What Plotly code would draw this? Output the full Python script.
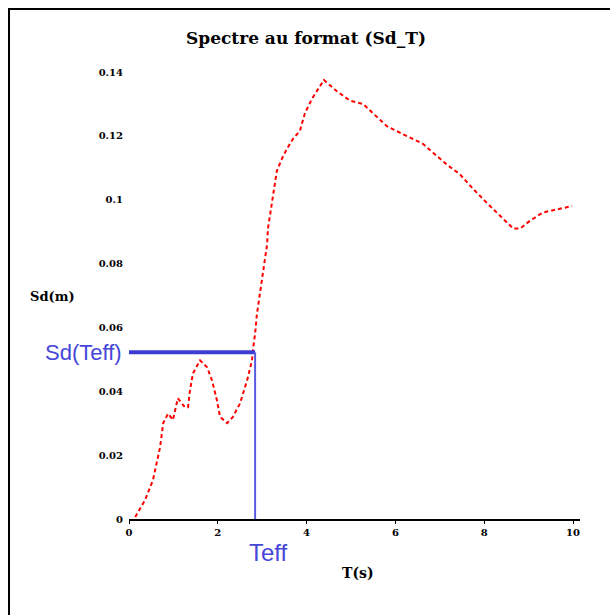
import plotly.graph_objects as go

T = [0.14, 0.36, 0.54, 0.61, 0.70, 0.77, 0.88, 0.99, 1.10, 1.26, 1.33, 1.37, 1.44, 1.60, 1.76, 1.87,
     1.98, 2.05, 2.21, 2.34, 2.50, 2.66, 2.77, 2.80, 2.84, 2.88, 2.95, 3.02, 3.11, 3.13, 3.22, 3.27,
     3.33, 3.45, 3.56, 3.69, 3.85, 3.96, 4.12, 4.39, 4.68, 4.98, 5.27, 5.50, 5.81, 6.10, 6.40, 6.62,
     6.85, 7.16, 7.45, 7.75, 8.06, 8.36, 8.65, 8.81, 9.03, 9.32, 9.64, 9.98]
Sd = [0.0006, 0.0059, 0.0122, 0.0163, 0.0225, 0.0300, 0.0330, 0.0310, 0.0378, 0.0350, 0.0350, 0.0400,
      0.0456, 0.0497, 0.0475, 0.0434, 0.0372, 0.0320, 0.0300, 0.0320, 0.0362, 0.0434, 0.0497, 0.0540,
      0.0580, 0.0640, 0.0706, 0.0788, 0.0860, 0.0910, 0.0988, 0.1040, 0.1090, 0.1130, 0.1160, 0.1190,
      0.1216, 0.1270, 0.1316, 0.1375, 0.1340, 0.1310, 0.1300, 0.1270, 0.1230, 0.1210, 0.1190, 0.1175,
      0.1147, 0.1110, 0.1080, 0.1034, 0.0990, 0.0950, 0.0910, 0.0910, 0.0934, 0.0960, 0.0970, 0.0980]

Teff = 2.84
SdTeff = 0.0522

x_ticks = [0, 2, 4, 6, 8, 10]
x_labels = ["0", "2", "4", "6", "8", "10"]
y_ticks = [0, 0.02, 0.04, 0.06, 0.08, 0.1, 0.12, 0.14]
y_labels = ["0", "0.02", "0.04", "0.06", "0.08", "0.1", "0.12", "0.14"]

W, H = 610, 615
L, R, TOP, B = 129, 580, 72, 519

fig = go.Figure()
fig.add_trace(go.Scatter(x=T, y=Sd, mode="lines",
                         line=dict(color="#ff0000", width=2, dash="4px,3px"),
                         showlegend=False, hoverinfo="skip"))
fig.add_trace(go.Scatter(x=[0, Teff], y=[SdTeff, SdTeff], mode="lines",
                         line=dict(color="#3c3cd2", width=4), showlegend=False, hoverinfo="skip"))
fig.add_trace(go.Scatter(x=[Teff, Teff], y=[SdTeff, 0], mode="lines",
                         line=dict(color="#5a5ae0", width=2), showlegend=False, hoverinfo="skip"))

tickfont = dict(family="DejaVu Serif", size=10, color="#000", weight="bold")
xr = [0, 10 * (R - L) / 444.0]
fig.update_xaxes(range=xr, tickvals=x_ticks, ticktext=x_labels, showgrid=False, zeroline=False,
                 showline=True, linecolor="#000", linewidth=2, ticks="outside", ticklen=3,
                 tickcolor="#000", tickfont=tickfont)
fig.update_yaxes(range=[0, 0.14], tickvals=y_ticks, ticktext=y_labels, showgrid=False, zeroline=False,
                 showline=False, ticks="", ticklabelstandoff=5, tickfont=tickfont)

def px(xp):
    return (xp - L) / (R - L)

def py(yp):
    return (B - yp) / (B - TOP)

fig.add_shape(type="line", xref="paper", yref="paper", x0=px(8), x1=px(615), y0=py(9), y1=py(9),
              line=dict(color="#000", width=2))
fig.add_shape(type="line", xref="paper", yref="paper", x0=px(9), x1=px(9), y0=py(9), y1=py(620),
              line=dict(color="#000", width=2))

def label(text, xp, yp, font, xanchor="center"):
    fig.add_annotation(text=text, xref="paper", yref="paper", x=px(xp), y=py(yp),
                       xanchor=xanchor, yanchor="middle", showarrow=False, font=font)

label("Spectre au format (Sd_T)", 306, 38,
      dict(family="DejaVu Serif", size=17, color="#000", weight="bold"))
label("Sd(m)", 52, 296, dict(family="DejaVu Serif", size=13, color="#000", weight="bold"))
label("T(s)", 358, 573, dict(family="DejaVu Serif", size=14, color="#000", weight="bold"))
label("Teff", 268, 552, dict(family="Liberation Sans", size=24, color="#4646d8"))
fig.add_annotation(text="Sd(Teff)", xref="paper", yref="y", x=px(124), y=SdTeff, xanchor="right",
                   yanchor="middle", showarrow=False,
                   font=dict(family="Liberation Sans", size=22, color="#4646d8"))

fig.update_layout(width=W, height=H, margin=dict(l=L, r=W - R, t=TOP, b=H - B),
                  paper_bgcolor="#fff", plot_bgcolor="#fff")
fig.write_html("out.html")
